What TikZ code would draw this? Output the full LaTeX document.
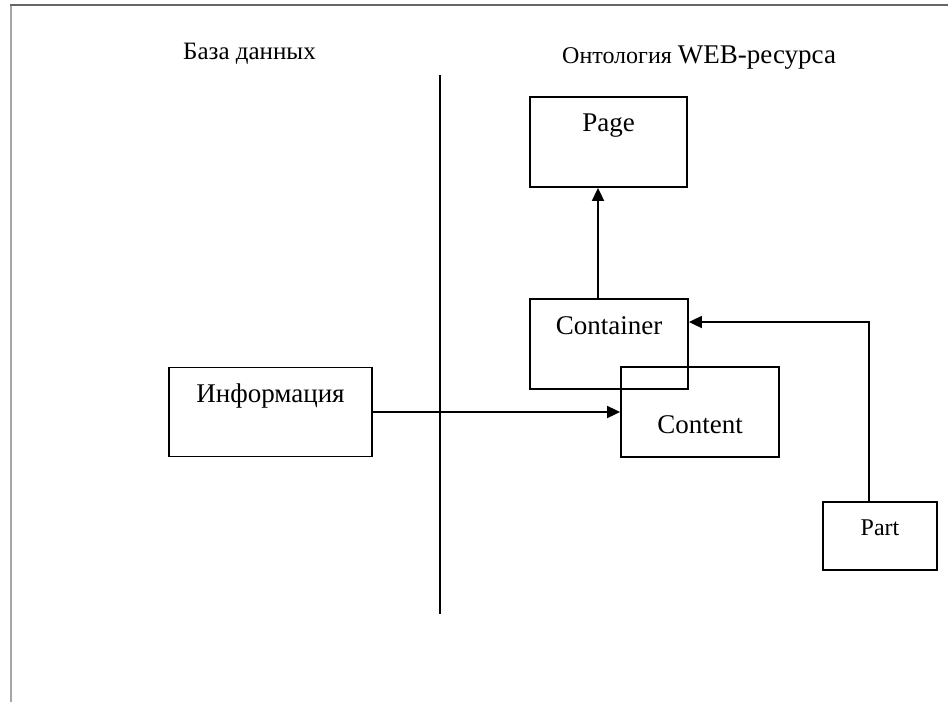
\documentclass[tikz,border=0pt]{standalone}
\usepackage{fontspec}
\setmainfont{Liberation Serif}
\usetikzlibrary{arrows.meta}

\tikzset{
  box/.style={draw, line width=1.8pt, rectangle, inner sep=0pt},
  txt/.style={anchor=base, inner sep=0pt, font=\fontsize{27}{30}\selectfont},
  link/.style={line width=1.8pt, -{Triangle[length=13pt, width=12pt]}},
  frameline/.style={line width=1.8pt}
}

\begin{document}
\begin{tikzpicture}[x=1pt, y=-1pt]
  \useasboundingbox (0,0) rectangle (948,702);

  % page frame
  \draw[frameline, draw=black!35] (11,5) -- (11,702);
  \draw[frameline, draw=black!60] (10.1,5) -- (948,5);

  % column headings
  \node[anchor=base west, inner sep=0pt, font=\fontsize{25}{28}\selectfont]
    (dbhead) at (183,59) {База данных};
  \node[anchor=base west, inner sep=0pt]
    (onthead) at (562,63) {\fontsize{24}{27}\selectfont Онтология \fontsize{27}{30}\selectfont WEB-ресурса};

  % divider between the two columns
  \coordinate (divtop) at (440,75);
  \coordinate (divbot) at (440,614);
  \draw[line width=1.8pt] (divtop) -- (divbot);

  % boxes
  \node[box, minimum width=157pt, minimum height=90pt] (page) at (608.5,142) {};
  \node[txt] (pageT) at ([yshift=-35pt]page.north) {Page};

  \node[box, minimum width=158pt, minimum height=90pt] (cont) at (609,344) {};
  \node[txt] (contT) at ([yshift=-36pt]cont.north) {Container};

  \node[box, minimum width=158pt, minimum height=90pt] (content) at (700,412) {};
  \node[txt] (contentT) at ([yshift=-67pt]content.north) {Content};

  \node[box, minimum width=203pt, minimum height=89pt] (info) at (270.5,412) {};
  \node[txt] (infoT) at ([yshift=-36pt]info.north) {Информация};

  \node[box, minimum width=114pt, minimum height=68pt] (part) at (880,536) {};
  \node[txt, font=\fontsize{24}{27}\selectfont] (partT) at ([yshift=-34pt]part.north) {Part};

  % connectors
  \draw[link] (cont.north -| 598,0) -- (page.south -| 598,0);
  \draw[link] (info.east) -- (content.west);
  \draw[link] (part.north -| 869,0) -- (869,322) -- (cont.east |- 0,322);
\end{tikzpicture}
\end{document}
